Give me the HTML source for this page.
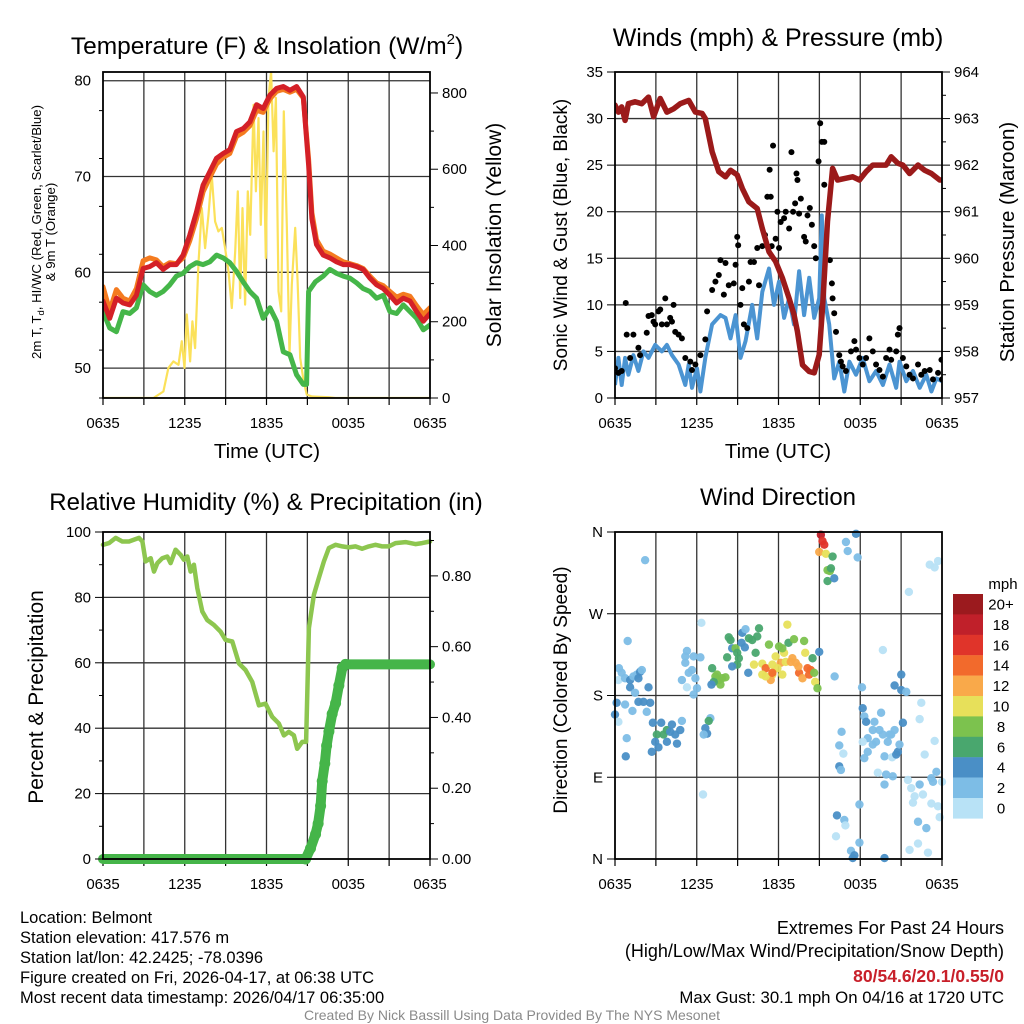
<!DOCTYPE html>
<html><head><meta charset="utf-8"><title>Belmont Meteogram</title>
<style>
html,body{margin:0;padding:0;background:#fff;}
svg{display:block;font-family:"Liberation Sans",Arial,sans-serif;}
</style></head>
<body>
<svg id="chart" width="1024" height="1024" viewBox="0 0 1024 1024" xmlns="http://www.w3.org/2000/svg">
<rect width="1024" height="1024" fill="#fff"/>
</svg>
<script>
// ---------- DATA ----------
const xTickLabels=["0635","1235","1835","0035","0635"];
// Temperature panel
const tempTimes=[0,0.49,0.98,1.47,1.96,2.45,2.94,3.43,3.92,4.41,4.90,5.39,5.88,6.37,6.86,7.35,7.84,8.33,8.82,9.31,9.80,10.29,10.78,11.27,11.76,12.25,12.74,13.23,13.72,14.21,14.70,15.09,15.33,15.67,16.16,16.65,17.14,17.63,18.12,18.61,19.10,19.59,20.08,20.57,21.06,21.55,22.04,22.53,23.02,23.51,24.0];
const temp2m=[57.0,55.2,57.3,56.8,56.6,57.6,60.4,60.6,61.0,60.3,60.8,60.8,61.8,63.9,66.3,69.1,70.5,71.9,72.4,72.8,74.7,75.0,75.7,77.5,77.1,78.5,79.2,79.4,79.0,79.4,78.3,71.2,65.6,62.9,61.8,61.5,61.1,60.8,60.8,60.6,60.3,59.4,58.7,58.3,57.6,56.8,57.3,57.0,55.9,54.9,55.7];
const temp9m=[58.5,56.0,58.2,57.3,57.0,58.3,61.2,61.5,61.3,60.6,61.0,60.9,61.5,63.3,65.6,68.4,69.9,71.3,72.0,72.4,74.2,74.6,75.3,76.9,76.7,78.1,78.9,79.1,78.8,79.1,78.2,71.8,66.2,63.4,62.2,61.9,61.5,61.1,60.9,60.7,60.4,59.6,58.9,58.6,58.0,57.4,57.7,57.5,56.5,55.6,56.3];
const dewTimes=[0,0.49,0.98,1.47,1.96,2.45,2.94,3.43,3.92,4.41,4.90,5.39,5.88,6.37,6.86,7.35,7.84,8.33,8.82,9.31,9.80,10.29,10.78,11.27,11.76,12.25,12.74,13.23,13.72,14.21,14.70,14.94,15.09,15.58,16.16,16.65,17.14,17.63,18.12,18.61,19.10,19.59,20.08,20.57,21.06,21.55,22.04,22.53,23.02,23.51,24.0];
const dewpoint=[55.9,54.2,53.8,55.9,55.7,56.3,58.7,58.0,57.6,58.0,58.7,59.6,59.9,60.6,61.0,60.8,61.1,61.8,61.5,61.0,60.1,59.0,58.0,57.3,55.2,56.3,54.9,51.7,51.4,49.3,48.3,48.3,58.0,59.0,59.6,60.3,59.9,59.6,59.4,58.9,58.3,58.0,57.3,57.6,55.9,55.7,56.6,55.9,55.2,54.0,54.5];
const solarTimes=[0,3.70,4.43,4.80,5.17,5.54,5.78,5.98,6.15,6.39,6.56,6.76,7.00,7.25,7.49,7.74,7.98,8.23,8.47,8.72,8.96,9.21,9.45,9.70,9.89,10.07,10.24,10.43,10.63,10.80,11.05,11.22,11.41,11.58,11.78,11.95,12.15,12.34,12.52,12.69,12.88,13.08,13.27,13.49,13.69,13.86,14.11,14.28,14.47,14.72,14.96,15.33,16.56,17.05,24];
const solar=[0,0,17,79,96,87,149,79,219,96,201,131,350,498,393,481,586,463,437,446,393,332,236,385,542,262,498,245,542,428,769,542,734,454,699,367,787,857,647,787,280,227,752,454,114,297,446,306,105,44,9,4,2,0,0];
const tempTicks=[50,60,70,80];
const solarTicks=[0,200,400,600,800];
// Wind panel
const presTimes=[0,0.25,0.49,0.74,0.98,1.47,1.97,2.46,2.83,3.32,3.81,4.30,4.79,5.41,5.90,6.39,6.63,7.13,7.62,8.11,8.48,8.97,9.34,9.83,10.44,10.81,11.30,11.79,12.29,12.78,13.14,13.39,13.76,14.25,14.62,14.99,15.23,15.60,15.97,16.34,16.83,17.44,17.94,18.43,18.92,19.41,19.90,20.27,20.76,21.13,21.62,22.24,22.73,23.22,23.83,24];
const pressure=[963.29,963.14,963.25,962.96,963.32,963.36,963.32,963.46,963.04,963.43,963.14,963.21,963.32,963.39,963.14,963.11,963.0,962.29,961.86,961.75,961.89,961.79,961.5,961.21,961.07,960.64,960.14,959.93,959.57,959.14,958.79,958.43,957.71,957.57,957.54,957.93,958.93,960.79,961.93,961.68,961.71,961.75,961.68,961.86,962.0,962.0,962.0,962.18,962.04,962.0,961.82,962.0,961.89,961.82,961.68,961.68];
const windTimes=[0,0.25,0.49,0.74,0.98,1.35,1.72,2.09,2.46,2.95,3.44,3.81,4.18,4.67,5.16,5.41,5.65,6.02,6.27,6.63,7.13,7.74,8.11,8.48,8.85,9.21,9.58,10.07,10.44,10.81,11.30,11.67,12.04,12.41,12.78,13.14,13.51,13.88,14.25,14.62,14.99,15.18,15.36,15.72,16.09,16.46,16.83,17.20,17.69,18.18,18.67,19.16,19.66,20.15,20.64,20.88,21.38,21.87,22.36,22.85,23.22,23.59,24];
const windSpeed=[1.4,4.3,1.4,4.3,2.5,4.6,2.9,5.0,4.3,5.7,5.0,5.7,4.6,3.6,1.4,3.6,1.1,3.2,0.7,4.3,7.9,8.9,8.6,6.4,8.9,4.3,6.1,10.0,6.4,11.4,13.9,10.0,12.5,8.6,10.7,7.9,13.6,8.9,12.9,8.6,10.7,19.6,10.7,7.9,2.1,3.9,0.7,3.9,2.5,4.3,1.8,2.9,1.4,3.6,1.1,3.9,1.8,2.9,1.1,2.5,0.7,2.1,1.8];
const gustTimes=[0.00,0.25,0.49,0.79,0.86,1.11,1.35,1.72,1.84,2.33,2.46,2.70,2.83,2.95,3.19,3.32,3.44,3.69,3.81,4.05,4.18,4.30,4.42,4.67,4.91,5.16,5.53,5.65,5.90,6.27,6.63,6.76,7.13,7.37,7.62,7.74,7.99,8.11,8.35,8.72,8.85,8.97,9.04,9.21,9.34,9.46,9.71,9.83,9.95,10.20,10.44,10.57,10.81,11.01,11.18,11.35,11.43,11.50,11.60,11.79,11.92,12.04,12.16,12.41,12.53,12.78,12.95,13.07,13.22,13.32,13.39,13.51,13.64,13.88,14.00,14.13,14.30,14.45,14.62,14.74,14.94,15.06,15.18,15.36,15.36,15.77,15.92,15.97,16.09,16.22,16.46,16.58,16.71,16.95,17.32,17.57,17.69,17.94,18.18,18.43,18.67,18.92,19.16,19.41,19.66,19.90,20.15,20.27,20.64,20.76,20.88,21.13,21.38,21.62,21.87,22.24,22.48,22.73,23.10,23.34,23.71,23.96,24.0];
const gustSpeed=[3.2,2.7,2.9,10.2,6.8,4.3,6.8,5.4,4.6,7.0,8.8,8.9,8.2,7.9,9.3,9.5,7.9,10.7,7.9,8.6,8.2,10.0,7.1,6.8,6.4,4.3,3.9,3.0,3.6,4.6,6.3,9.3,11.6,12.5,13.2,14.8,11.1,14.5,12.1,12.3,14.3,17.3,16.4,10.0,11.8,7.9,7.5,12.5,14.6,14.6,16.1,12.1,16.3,17.5,21.6,24.5,21.6,16.3,27.1,17.1,20.0,16.1,18.9,19.3,20.0,18.2,26.4,20.0,20.9,24.1,23.4,19.8,21.4,17.3,16.8,19.6,20.4,18.6,16.3,15.0,25.4,29.5,27.5,27.5,22.9,14.8,12.3,10.7,9.1,7.1,4.6,3.9,3.4,2.9,5.0,6.1,5.2,4.3,3.6,4.3,6.4,5.0,3.6,3.0,2.3,4.3,5.2,4.1,5.0,6.8,7.5,4.3,3.4,2.5,2.1,3.6,2.5,2.9,3.0,2.0,2.7,4.1,2.0];
const windTicks=[0,5,10,15,20,25,30,35];
const presTicks=[957,958,959,960,961,962,963,964];
// RH panel
const rhTimes=[0,0.44,0.93,1.42,1.91,2.64,2.89,3.13,3.50,3.74,3.99,4.35,4.72,4.96,5.33,5.70,5.94,6.19,6.43,6.67,6.92,7.29,7.65,8.14,8.63,9.00,9.49,9.98,10.46,10.95,11.44,11.93,12.42,12.91,13.28,13.64,14.01,14.25,14.62,14.91,15.11,15.48,15.84,16.21,16.58,17.07,17.56,18.04,18.53,19.02,19.51,20.0,20.49,20.98,21.47,22.20,22.93,23.42,24];
const rh=[96.1,96.6,98.2,97.1,97.1,98.2,97.1,91.0,92.0,87.9,90.5,92.0,92.5,90.5,94.6,93.0,91.5,92.5,87.9,90.0,82.8,75.7,73.1,71.6,69.5,67.0,66.5,59.8,57.8,54.2,47.0,47.5,43.5,41.4,37.8,38.9,37.8,33.7,35.8,35.8,70.6,80.8,85.9,91.0,95.1,96.1,95.6,95.3,95.6,94.9,95.6,96.1,95.6,95.6,96.6,96.9,96.3,96.6,97.1];
const precipTimes=[0,14.87,15.23,15.60,15.79,15.97,16.09,16.28,16.41,16.58,16.82,17.07,17.31,17.56,17.80,24];
const precip=[0,0,0.03,0.07,0.10,0.15,0.22,0.27,0.32,0.36,0.41,0.44,0.49,0.54,0.55,0.55];
const rhTicks=[0,20,40,60,80,100];
const precipTicks=[0,0.2,0.4,0.6,0.8];
// Wind direction panel
const dirTimes=[2.21,0.93,0.29,0.49,0.25,0.74,1.11,1.35,1.60,1.84,1.97,1.72,1.11,1.47,2.46,1.72,2.09,2.58,0.12,0.74,0,0.25,1.28,2.33,0.86,0.79,2.78,3.39,3.07,2.95,3.19,2.70,3.56,3.81,4.18,4.42,4.79,4.55,3.81,4.91,4.05,5.28,5.16,5.16,5.77,6.27,5.65,5.90,5.41,4.91,5.28,5.77,6.34,6.02,7.00,6.88,6.63,6.76,6.51,6.46,7.13,7.37,7.62,7.86,7.74,8.11,7.25,7.08,7.49,8.35,8.60,8.48,8.85,8.97,9.34,9.58,9.29,9.83,10.07,10.44,10.57,8.23,8.97,8.60,9.53,9.78,10.32,9.09,10.20,10.81,11.06,11.30,11.55,11.79,12.04,12.16,12.41,12.53,11.55,11.92,12.28,12.65,12.73,13.14,12.90,13.02,13.27,13.51,13.76,13.88,13.96,14.13,14.25,14.37,14.50,14.62,14.69,14.86,14.99,11.43,10.81,11.06,11.55,13.46,12.28,15.11,15.23,15.36,14.99,15.48,15.97,15.60,15.77,15.85,15.60,16.09,16.95,17.08,17.69,17.81,16.12,18.13,18.18,18.30,18.43,19.04,19.53,18.92,19.41,19.66,20.27,20.52,21.01,20.52,21.01,21.38,21.13,16.63,16.46,16.76,16.46,16.58,18.55,18.92,19.16,18.55,18.30,18.18,20.02,20.15,19.78,20.34,20.76,20.88,20.64,19.90,20.39,19.78,19.29,19.66,22.48,22.36,23.46,22.73,21.50,21.74,21.99,21.87,22.60,23.22,23.71,22.36,23.22,23.34,23.59,24.0,23.83,22.24,22.85,22.24,21.62,22.97,17.94,16.29,16.83,16.91,16.22,17.94,17.32,17.57,17.45,19.78,23.10,23.46,23.71,21.57];
const dirDegrees=[329,240,210,205,197,199,197,201,203,206,208,199,189,183,189,173,173,172,172,170,159,151,163,162,133,113,150,150,137,129,123,118,137,142,148,137,142,127,129,152,140,229,223,216,223,222,208,199,205,197,189,181,260,188,155,152,144,138,137,71,210,201,197,199,192,200,195,192,203,244,232,241,232,227,249,253,238,243,241,245,254,222,214,212,233,205,227,221,214,215,210,236,203,223,234,216,227,217,214,210,203,258,238,242,217,221,216,205,199,240,227,210,203,208,221,205,195,188,228,197,203,201,205,212,232,357,350,346,338,336,333,318,317,320,306,309,349,339,358,332,201,189,166,157,151,151,161,142,142,137,137,142,203,191,186,184,150,140,125,116,102,98,133,126,129,118,111,129,129,137,113,112,118,126,115,93,91,82,95,230,172,154,130,115,87,78,69,62,71,61,58,82,89,85,96,85,46,41,34,17,10,7,60,48,43,37,25,18,9,4,1,1,324,321,328,294];
const dirSpeeds=[3,3,3,3,1,3,5,3,3,5,3,5,5,3,5,5,5,5,5,3,5,1,3,3,3,5,5,5,7,5,5,5,7,7,5,5,5,5,5,3,5,3,3,3,3,3,3,3,3,3,1,3,1,3,3,7,5,5,3,1,7,9,9,9,9,9,7,5,9,7,5,7,9,7,5,3,5,7,7,7,7,7,7,5,5,5,7,7,11,11,15,9,11,11,9,13,11,11,11,11,11,11,7,9,13,13,13,15,13,9,11,15,15,15,7,9,11,9,5,13,11,11,15,13,9,19,17,17,13,11,7,9,9,7,7,5,3,3,5,3,3,3,5,3,5,3,3,3,3,3,3,3,5,5,5,3,5,3,3,1,5,3,3,3,3,3,3,1,3,3,3,1,5,3,5,3,3,3,1,1,1,1,1,1,1,1,1,1,1,1,1,3,3,3,3,1,1,3,3,1,1,1,3,5,3,1,1,3,3,5,5,5,1,1,1,1,1];
const dirTickLabels=["N","E","S","W","N"];
const speedBinLabels=["20+","18","16","14","12","10","8","6","4","2","0"];
const speedBinColors=["#9b1a1e","#c0202a","#e0342a","#f26a2c","#f9a94a","#e7e05a","#7cc24e","#49a76e","#4a8fc6","#7dbde6","#b8e2f6"];

// ---------- HELPERS ----------
const NS="http://www.w3.org/2000/svg";
const svg=document.getElementById("chart");
function mk(tag,attrs,parent){const e=document.createElementNS(NS,tag);for(const k in attrs)e.setAttribute(k,attrs[k]);(parent||svg).appendChild(e);return e;}
function txt(str,attrs,parent){const e=mk("text",attrs,parent);e.textContent=str;return e;}
const P1={x0:103,x1:430,y0:72,y1:398};
const P2={x0:615,x1:942,y0:72,y1:398};
const P3={x0:103,x1:430,y0:532,y1:859};
const P4={x0:615,x1:942,y0:532,y1:859};
function sx(p,h){return p.x0+(p.x1-p.x0)*h/24;}
function sy(p,v,lo,hi){return p.y1-(v-lo)/(hi-lo)*(p.y1-p.y0);}
function pathD(p,ts,vs,lo,hi){let d="";for(let i=0;i<ts.length;i++){d+=(i?"L":"M")+sx(p,ts[i]).toFixed(1)+","+sy(p,vs[i],lo,hi).toFixed(1);}return d;}
function clipFor(p,id){const cp=mk("clipPath",{id:id});mk("rect",{x:p.x0,y:p.y0,width:p.x1-p.x0,height:p.y1-p.y0},cp);return "url(#"+id+")";}

function frame(p,name,hGridVals,lo,hi){
  const g=mk("g",{});
  
  
  for(let h=3;h<24;h+=3){const l=mk("line",{x1:sx(p,h),x2:sx(p,h),y1:p.y0,y2:p.y1,stroke:"#333","stroke-width":1.3},g);
    
    }
  hGridVals.forEach(v=>{const y=sy(p,v,lo,hi);const l=mk("line",{x1:p.x0,x2:p.x1,y1:y,y2:y,stroke:"#333","stroke-width":1.3},g);
    
    });
  for(let h=0;h<=24;h+=3){const x=sx(p,h);const t=mk("line",{x1:x,x2:x,y1:p.y1,y2:p.y1+7,stroke:"#000","stroke-width":1.2},g);
    
    }
  xTickLabels.forEach((s,i)=>{const t=txt(s,{x:sx(p,i*6),y:p.y1+30,"font-size":15,"text-anchor":"middle"},g);
    
    });
}
function border(p,name){const r=mk("rect",{x:p.x0,y:p.y0,width:p.x1-p.x0,height:p.y1-p.y0,fill:"none",stroke:"#000","stroke-width":1.8});
  
  }
function yAxis(p,side,ticks,labels,lo,hi,minorStep,name){
  const g=mk("g",{});
  
  
  const x=side==="left"?p.x0:p.x1;const dir=side==="left"?-1:1;
  for(let v=lo;v<=hi+1e-9;v+=minorStep){const vv=Math.round(v*1000)/1000;const y=sy(p,vv,lo,hi);
    const isMaj=ticks.some(t=>Math.abs(t-vv)<1e-6);
    if(y<p.y0-0.5)continue;
    const t=mk("line",{x1:x,x2:x+dir*(isMaj?8:4),y1:y,y2:y,stroke:"#000","stroke-width":1},g);
    
    }
  ticks.forEach((v,i)=>{const y=sy(p,v,lo,hi);
    const t=txt(labels[i],{x:x+dir*12,y:y+5,"font-size":15,"text-anchor":side==="left"?"end":"start"},g);
    
    });
}
function title(s,x,y,name,size){const t=txt(s,{x:x,y:y,"font-size":size||25,"text-anchor":"middle"});
  
  return t;}
function vlabel(s,x,y,size,name){const t=txt(s,{x:x,y:y,"font-size":size,"text-anchor":"middle",transform:"rotate(-90 "+x+" "+y+")"});
  
  return t;}

// ---------- PANEL 1: Temperature ----------
const T_LO=46.88,T_HI=80.91,S_LO=0,S_HI=855;
frame(P1,"temperature",tempTicks,T_LO,T_HI);
const c1=clipFor(P1,"clip1");
const solarLine=mk("path",{d:pathD(P1,solarTimes,solar,S_LO,S_HI),fill:"none",stroke:"#fbe15a","stroke-width":2.2,"stroke-linejoin":"round","clip-path":c1});


const dewLine=mk("path",{d:pathD(P1,dewTimes,dewpoint,T_LO,T_HI),fill:"none",stroke:"#45b649","stroke-width":5,"stroke-linejoin":"round","stroke-linecap":"round","clip-path":c1});


const t9Line=mk("path",{d:pathD(P1,tempTimes,temp9m,T_LO,T_HI),fill:"none",stroke:"#f47b20","stroke-width":5,"stroke-linejoin":"round","stroke-linecap":"round","clip-path":c1});


const t2Line=mk("path",{d:pathD(P1,tempTimes,temp2m,T_LO,T_HI),fill:"none",stroke:"#d42027","stroke-width":5,"stroke-linejoin":"round","stroke-linecap":"round","clip-path":c1});


border(P1,"temperature");
yAxis(P1,"left",tempTicks,tempTicks.map(String),T_LO,T_HI,5,"temperature-y-axis");
yAxis(P1,"right",solarTicks,solarTicks.map(String),S_LO,S_HI,100,"solar-y-axis");
const t1=txt("",{x:267,y:54,"font-size":24.5,"text-anchor":"middle"});


t1.appendChild(document.createTextNode("Temperature (F) & Insolation (W/m"));
const sup=mk("tspan",{"font-size":15,dy:-10},t1);sup.textContent="2";
const sup2=mk("tspan",{dy:10},t1);sup2.textContent=")";
title("Time (UTC)",267,458,"temperature-x-axis-title",20.5);
const yl1=txt("",{x:41,y:232,"font-size":13.2,"text-anchor":"middle",transform:"rotate(-90 41 232)"});


yl1.appendChild(document.createTextNode("2m T, T"));
const subd=mk("tspan",{"font-size":9.5,dy:3},yl1);subd.textContent="d";
const subr=mk("tspan",{dy:-3},yl1);subr.textContent=", HI/WC (Red, Green, Scarlet/Blue)";
const yl1b=txt("& 9m T (Orange)",{x:55,y:232,"font-size":13.2,"text-anchor":"middle",transform:"rotate(-90 55 232)"});


vlabel("Solar Insolation (Yellow)",501,235,21,"solar-y-axis-title");

// ---------- PANEL 2: Winds ----------
const W_LO=0,W_HI=35,PR_LO=957,PR_HI=964;
frame(P2,"winds",windTicks.slice(1,-1),W_LO,W_HI);
const c2=clipFor(P2,"clip2");
const windLine=mk("path",{d:pathD(P2,windTimes,windSpeed,W_LO,W_HI),fill:"none",stroke:"#4b94d2","stroke-width":4,"stroke-linejoin":"round","clip-path":c2});


const gustG=mk("g",{"clip-path":c2});


gustTimes.forEach((h,i)=>{const c=mk("circle",{cx:sx(P2,h),cy:sy(P2,gustSpeed[i],W_LO,W_HI),r:3,fill:"#000"},gustG);
  
  });
const presLine=mk("path",{d:pathD(P2,presTimes,pressure,PR_LO,PR_HI),fill:"none",stroke:"#9b1a1a","stroke-width":5.5,"stroke-linejoin":"round","stroke-linecap":"round","clip-path":c2});


border(P2,"winds");
yAxis(P2,"left",windTicks,windTicks.map(String),W_LO,W_HI,5,"wind-y-axis");
yAxis(P2,"right",presTicks,presTicks.map(String),PR_LO,PR_HI,0.5,"pressure-y-axis");
title("Winds (mph) & Pressure (mb)",778,46,"winds-chart-title");
title("Time (UTC)",778,458,"winds-x-axis-title",20.5);
vlabel("Sonic Wind & Gust (Blue, Black)",567,235,19,"wind-y-axis-title");
vlabel("Station Pressure (Maroon)",1014,242,20.5,"pressure-y-axis-title");

// ---------- PANEL 3: RH & Precip ----------
const RH_LO=0,RH_HI=100,PC_LO=0,PC_HI=0.924;
frame(P3,"humidity",rhTicks.slice(1,-1),RH_LO,RH_HI);
const rhLine=mk("path",{d:pathD(P3,rhTimes,rh,RH_LO,RH_HI),fill:"none",stroke:"#8dc64f","stroke-width":4.5,"stroke-linejoin":"round","stroke-linecap":"round"});


const pcLine=mk("path",{d:pathD(P3,precipTimes,precip,PC_LO,PC_HI),fill:"none",stroke:"#45b549","stroke-width":10,"stroke-linejoin":"round","stroke-linecap":"round"});


precipTimes.forEach((h,i)=>{if(i===0||i===precipTimes.length-1)return;const c=mk("circle",{cx:sx(P3,h),cy:sy(P3,precip[i],PC_LO,PC_HI),r:5.5,fill:"#45b549"});
  
  });
border(P3,"humidity");
yAxis(P3,"left",rhTicks,rhTicks.map(String),RH_LO,RH_HI,10,"humidity-y-axis");
yAxis(P3,"right",precipTicks,precipTicks.map(v=>v.toFixed(2)),PC_LO,PC_HI,0.1,"precipitation-y-axis");
title("Relative Humidity (%) & Precipitation (in)",266,510,"humidity-chart-title",24);
vlabel("Percent & Precipitation",43,697,21,"humidity-y-axis-title");

// ---------- PANEL 4: Wind direction ----------
function binColor(s){const idx=Math.min(10,Math.floor(s/2));return speedBinColors[10-idx];}
frame(P4,"wind-direction",[90,180,270],0,360);
const dirG=mk("g",{});


dirTimes.forEach((h,i)=>{const c=mk("circle",{cx:sx(P4,h),cy:sy(P4,dirDegrees[i],0,360),r:4.2,fill:binColor(dirSpeeds[i]),"fill-opacity":0.95},dirG);
  
  });
border(P4,"wind-direction");
yAxis(P4,"left",[0,90,180,270,360],dirTickLabels,0,360,90,"direction-y-axis");
title("Wind Direction",778,505,"wind-direction-chart-title",24);
vlabel("Direction (Colored By Speed)",567,690,19,"direction-y-axis-title");
const cb=mk("g",{});


speedBinLabels.forEach((s,i)=>{const y=594+i*20.4;
  const r=mk("rect",{x:953,y:y,width:30,height:20.6,fill:speedBinColors[i]},cb);
  
  
  const t=txt(s,{x:1001,y:y+15.5,"font-size":15,"text-anchor":"middle"},cb);
  
  });
const mph=txt("mph",{x:1003,y:589,"font-size":15,"text-anchor":"middle"});



// ---------- FOOTER TEXT ----------
const infoLines=["Location: Belmont","Station elevation: 417.576 m","Station lat/lon: 42.2425; -78.0396","Figure created on Fri, 2026-04-17, at 06:38 UTC","Most recent data timestamp: 2026/04/17 06:35:00"];
infoLines.forEach((s,i)=>{const t=txt(s,{x:20,y:923+i*20,"font-size":16.5});
  
  });
const ex1=txt("Extremes For Past 24 Hours",{x:1004,y:934,"font-size":18,"text-anchor":"end"});


const ex2=txt("(High/Low/Max Wind/Precipitation/Snow Depth)",{x:1004,y:957,"font-size":18,"text-anchor":"end"});


const ex3=txt("80/54.6/20.1/0.55/0",{x:1004,y:982,"font-size":17.5,"font-weight":"bold",fill:"#c8202a","text-anchor":"end"});


const ex4=txt("Max Gust: 30.1 mph On 04/16 at 1720 UTC",{x:1004,y:1003,"font-size":16.8,"text-anchor":"end"});


const credit=txt("Created By Nick Bassill Using Data Provided By The NYS Mesonet",{x:512,y:1020,"font-size":14,fill:"#8a8a8a","text-anchor":"middle"});


</script>
</body></html>
